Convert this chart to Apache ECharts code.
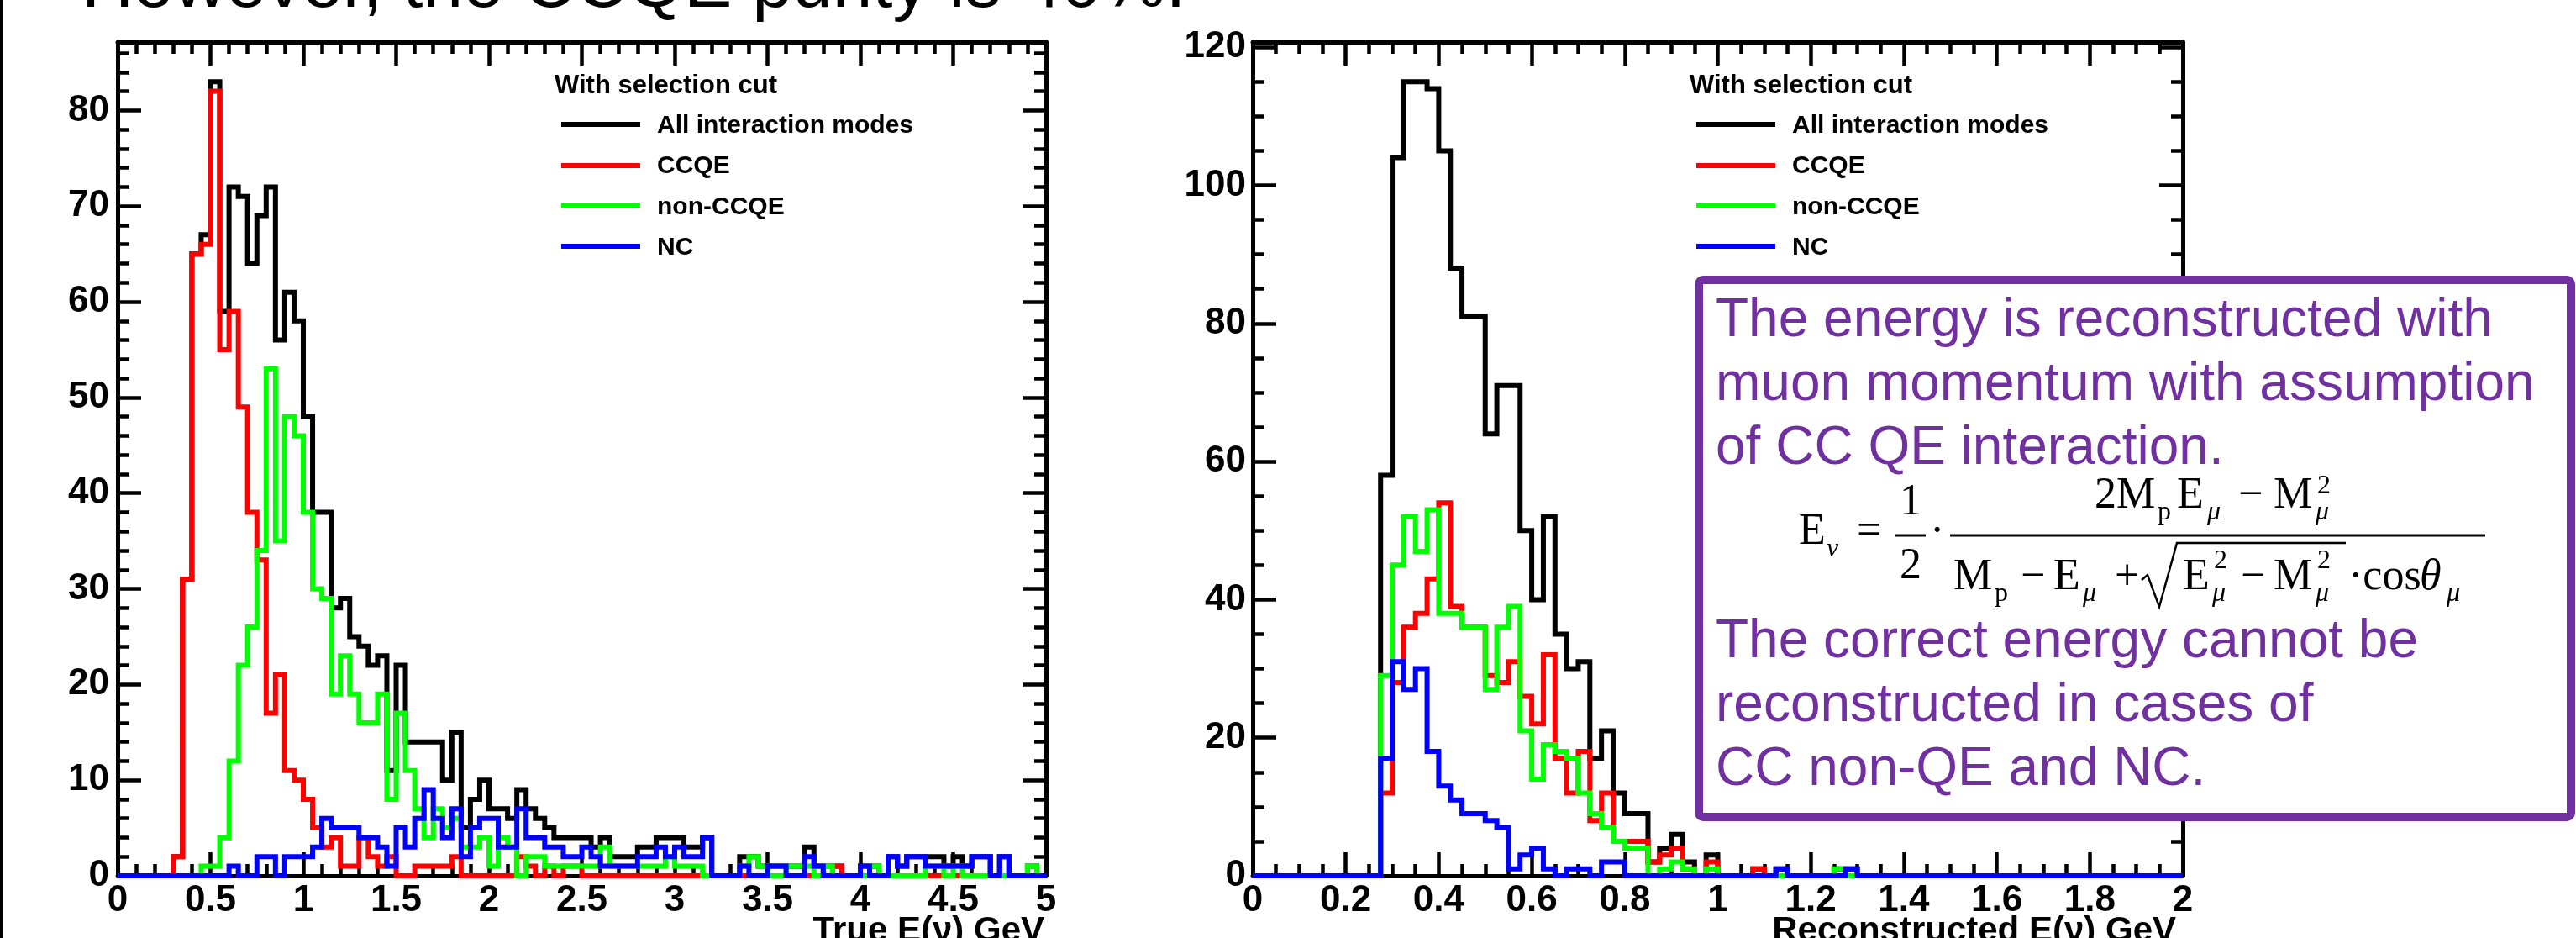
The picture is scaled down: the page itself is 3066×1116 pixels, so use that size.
<!DOCTYPE html>
<html><head><meta charset="utf-8">
<script src="https://cdn.jsdelivr.net/npm/echarts@6/dist/echarts.min.js"></script>
<style>html,body{margin:0;padding:0;background:#fff}#c{width:3066px;height:1116px}</style>
</head><body><div id="c"></div>
<script>
// ---------- DATA ----------
// Left panel: True E(nu), 100 bins of 0.05 GeV from 0 to 5
const trueBinWidth = 0.05;
const trueAll = [0,0,0,0,0,0,2,31,65,67, 83,59,72,71,64,69,72,56,61,58, 48,38,38,28,29,25,24,22,23,11, 22,14,14,14,14,10,15,5,8,10, 7,7,6,9,7,6,5,4,4,4, 4,3,4,2,2,2,3,3,4,4, 4,3,3,4,0,0,0,2,2,1, 1,1,1,1,3,1,1,1,0,0, 1,1,0,2,1,2,2,2,2,1, 2,1,2,2,0,2,0,0,1,0];
const trueCCQE = [0,0,0,0,0,0,2,31,65,66, 82,55,59,49,38,33,17,21,11,10, 8,5,3,4,1,1,4,2,1,2, 0,0,1,1,1,1,2,0,0,0, 0,0,0,2,1,0,1,0,1,1, 0,0,0,0,0,0,0,0,0,0, 0,0,0,0,0,0,0,0,0,0, 0,0,0,0,0,0,0,1,0,0, 0,0,0,0,0,0,0,0,0,0, 0,0,0,0,0,0,0,0,0,0];
const trueNonCCQE = [0,0,0,0,0,0,0,0,0,1, 1,4,12,22,26,34,53,35,48,46, 38,30,29,19,23,19,16,16,19,8, 17,11,7,4,7,5,6,3,3,4, 1,4,3,0,2,2,1,1,1,1, 1,1,3,1,1,1,1,1,1,2, 1,1,1,0,0,0,0,1,2,1, 0,0,1,1,1,0,1,0,0,0, 0,1,0,0,0,0,0,1,1,0, 1,0,0,0,0,0,0,0,1,0];
const trueNC = [0,0,0,0,0,0,0,0,0,0, 0,0,1,0,0,2,2,0,2,2, 2,3,6,5,5,5,4,4,3,1, 5,3,6,9,6,4,7,2,5,6, 6,3,3,7,4,4,3,3,2,2, 3,2,1,1,1,1,2,2,3,2, 3,2,2,4,0,0,0,1,0,0, 1,1,0,0,2,1,0,0,0,0, 1,0,0,2,1,2,2,1,1,1, 1,1,2,2,0,2,0,0,0,0];

// Right panel: Reconstructed E(nu), 80 bins of 0.025 GeV from 0 to 2
const recoBinWidth = 0.025;
const recoAll = [0,0,0,0,0,0,0,0,0,0, 0,58,104,115,115,114,105,88,81,81, 64,71,71,50,40,52,35,30,31,17, 21,12,9,9,2,4,6,2,0,3, 0,0,0,1,0,1,0,0,0,0, 1,1,0,0,0,0,0,0,0,0, 0,0,0,0,0,0,0,0,0,0, 0,0,0,0,0,0,0,0,0,0];
const recoCCQE = [0,0,0,0,0,0,0,0,0,0, 0,12,28,36,38,43,54,39,36,36, 29,28,31,26,22,32,17,12,18,8, 12,5,5,5,2,3,4,1,0,2, 0,0,0,1,0,0,0,0,0,0, 0,0,0,0,0,0,0,0,0,0, 0,0,0,0,0,0,0,0,0,0, 0,0,0,0,0,0,0,0,0,0];
const recoNonCCQE = [0,0,0,0,0,0,0,0,0,0, 0,29,45,52,47,53,38,38,36,36, 27,36,39,21,14,19,18,17,12,9, 7,5,4,4,0,1,2,1,0,1, 0,0,0,0,0,0,0,0,0,0, 1,0,0,0,0,0,0,0,0,0, 0,0,0,0,0,0,0,0,0,0, 0,0,0,0,0,0,0,0,0,0];
const recoNC = [0,0,0,0,0,0,0,0,0,0, 0,17,31,27,30,18,13,11,9,9, 8,7,1,3,4,1,0,1,1,0, 2,2,0,0,0,0,0,0,0,0, 0,0,0,0,0,1,0,0,0,0, 0,1,0,0,0,0,0,0,0,0, 0,0,0,0,0,0,0,0,0,0, 0,0,0,0,0,0,0,0,0,0];

const seriesNames = ['All interaction modes','CCQE','non-CCQE','NC'];
const seriesColors = ['#000000','#ff0000','#00ff00','#0000ff'];

const trueXTicks = ['0','0.5','1','1.5','2','2.5','3','3.5','4','4.5','5'];
const trueYTicks = ['0','10','20','30','40','50','60','70','80'];
const recoXTicks = ['0','0.2','0.4','0.6','0.8','1','1.2','1.4','1.6','1.8','2'];
const recoYTicks = ['0','20','40','60','80','100','120'];

// ---------- CHART ----------
const SANS = '"Liberation Sans", Arial, Helvetica, sans-serif';
const SERIF = '"Liberation Serif", "Times New Roman", serif';

function histPoints(vals, bw) {
  const pts = vals.map((v, i) => [+(i * bw).toFixed(5), v]);
  pts.push([+(vals.length * bw).toFixed(5), vals[vals.length - 1]]);
  return pts;
}

function labelFmt(ticks, interval) {
  return function (v) {
    const i = Math.round(v / interval);
    if (Math.abs(v - i * interval) > 1e-6) return '';
    return ticks[i] !== undefined ? ticks[i] : '';
  };
}

const tickStyle = { color: '#000', width: 4.5 };
const frameLine = { show: true, onZero: false, lineStyle: { color: '#000', width: 5 } };
const LABEL_SIZE = 44;

function xAxes(gi, max, interval, minorSplit, ticks) {
  const base = {
    type: 'value', gridIndex: gi, min: 0, max: max, interval: interval,
    splitLine: { show: false }, minorSplitLine: { show: false },
    axisLine: frameLine,
    axisTick: { show: true, inside: true, length: 28, lineStyle: tickStyle },
    minorTick: { show: true, splitNumber: minorSplit, length: 14, lineStyle: tickStyle }
  };
  return [
    Object.assign({}, base, { position: 'bottom',
      axisLabel: { show: true, margin: 8, color: '#000', fontFamily: SANS, fontWeight: 'bold', fontSize: LABEL_SIZE,
        formatter: labelFmt(ticks, interval) } }),
    Object.assign({}, base, { position: 'top', axisLabel: { show: false } })
  ];
}

function yAxes(gi, max, interval, minorInterval, ticks, margin) {
  const base = { type: 'value', gridIndex: gi, min: 0, max: max,
    splitLine: { show: false }, minorSplitLine: { show: false } };
  return [
    Object.assign({}, base, { position: 'left', interval: interval, axisLine: frameLine,
      axisTick: { show: true, inside: true, length: 28, lineStyle: tickStyle },
      axisLabel: { show: true, margin: margin, color: '#000', fontFamily: SANS, fontWeight: 'bold', fontSize: LABEL_SIZE,
        showMaxLabel: false, formatter: labelFmt(ticks, interval) } }),
    Object.assign({}, base, { position: 'left', interval: minorInterval, axisLine: { show: false, onZero: false },
      axisTick: { show: true, inside: true, length: 14, lineStyle: tickStyle }, axisLabel: { show: false } }),
    Object.assign({}, base, { position: 'right', interval: interval, axisLine: frameLine,
      axisTick: { show: true, inside: true, length: 28, lineStyle: tickStyle }, axisLabel: { show: false } }),
    Object.assign({}, base, { position: 'right', interval: minorInterval, axisLine: { show: false, onZero: false },
      axisTick: { show: true, inside: true, length: 14, lineStyle: tickStyle }, axisLabel: { show: false } })
  ];
}

function histSeries(gi, arrays, bw) {
  return arrays.map((vals, k) => ({
    type: 'line', name: seriesNames[k], xAxisIndex: gi * 2, yAxisIndex: gi * 4,
    step: 'end', symbol: 'none', silent: true, animation: false, z: 2 + k,
    lineStyle: { color: seriesColors[k], width: 6, join: 'miter', cap: 'butt' },
    data: histPoints(vals, bw)
  }));
}

function txt(s, x, B, F, o) {
  o = o || {};
  const fam = o.serif ? SERIF : SANS;
  const k = o.serif ? 0.3375 : 0.3465;
  return { type: 'text', x: x, y: B - k * F, z: o.z || 60, silent: true,
    style: { text: s, font: (o.italic ? 'italic ' : '') + (o.bold ? 'bold ' : '') + F + 'px ' + fam,
      fill: o.color || '#000', align: o.align || 'left', verticalAlign: 'middle' } };
}
function seg(x1, y1, x2, y2, w, c, z) {
  return { type: 'line', silent: true, z: z || 60, shape: { x1: x1, y1: y1, x2: x2, y2: y2 },
    style: { stroke: c || '#000', lineWidth: w } };
}

function legend(ox) {
  const els = [txt('With selection cut', 660 + ox, 113, 31, { bold: true })];
  const lineY = [148, 197, 245, 293];
  const textB = [160, 208, 257, 305];
  for (let k = 0; k < 4; k++) {
    els.push(seg(668 + ox, lineY[k], 762 + ox, lineY[k], 6, seriesColors[k]));
    els.push(txt(seriesNames[k], 782 + ox, textB[k], 30, { bold: true }));
  }
  return els;
}

const PURPLE = '#7030A0';
const gfx = [];
gfx.push(seg(1.5, 0, 1.5, 1116, 3, '#000'));
gfx.push(txt('However, the CCQE purity is 40%.', 97, 14, 86));
gfx.push(...legend(0));
gfx.push(...legend(1351));
gfx.push(txt('True E(ν) GeV', 1243, 1123, 42, { bold: true, align: 'right' }));
gfx.push(txt('Reconstructed E(ν) GeV', 2590, 1123, 42, { bold: true, align: 'right' }));

// explanatory box
gfx.push({ type: 'rect', z: 50, silent: true, shape: { x: 2022, y: 333, width: 1038, height: 639, r: 5 },
  style: { fill: '#ffffff', stroke: PURPLE, lineWidth: 10 } });
const boxLines = [
  ['The energy is reconstructed with', 405],
  ['muon momentum with assumption', 481],
  ['of CC QE interaction.', 557],
  ['The correct energy cannot be', 787],
  ['reconstructed in cases of', 863],
  ['CC non-QE and NC.', 939]
];
boxLines.forEach(l => gfx.push(txt(l[0], 2042, l[1], 64, { color: PURPLE })));

// formula
const S = { serif: true };
const SI = { serif: true, italic: true };
const F1 = 52, F2 = 32;
gfx.push(txt('E', 2141, 651, F1, S));
gfx.push(txt('ν', 2174, 664, F2, SI));
gfx.push(txt('=', 2210, 651, F1, S));
gfx.push(txt('1', 2274, 616, F1, Object.assign({ align: 'center' }, S)));
gfx.push(seg(2256, 637, 2292, 637, 3));
gfx.push(txt('2', 2274, 692, F1, Object.assign({ align: 'center' }, S)));
gfx.push(txt('·', 2297, 651, F1, S));
gfx.push(seg(2321, 637, 2958, 637, 3));
// numerator
gfx.push(txt('2M', 2493, 608, F1, S));
gfx.push(txt('p', 2568, 620, F2, S));
gfx.push(txt('E', 2591, 608, F1, S));
gfx.push(txt('μ', 2627, 620, F2, SI));
gfx.push(txt('−', 2664, 608, F1, S));
gfx.push(txt('M', 2706, 608, F1, S));
gfx.push(txt('μ', 2756, 620, F2, SI));
gfx.push(txt('2', 2758, 589, F2, S));
// denominator
gfx.push(txt('M', 2325, 705, F1, S));
gfx.push(txt('p', 2374, 717, F2, S));
gfx.push(txt('−', 2405, 705, F1, S));
gfx.push(txt('E', 2444, 705, F1, S));
gfx.push(txt('μ', 2479, 717, F2, SI));
gfx.push(txt('+', 2517, 705, F1, S));
gfx.push({ type: 'polyline', z: 60, silent: true,
  shape: { points: [[2549, 690], [2556, 684], [2570, 722], [2591, 646], [2792, 646]] },
  style: { stroke: '#000', lineWidth: 2.5, fill: null } });
gfx.push(txt('E', 2598, 705, F1, S));
gfx.push(txt('μ', 2633, 717, F2, SI));
gfx.push(txt('2', 2635, 678, F2, S));
gfx.push(txt('−', 2667, 705, F1, S));
gfx.push(txt('M', 2706, 705, F1, S));
gfx.push(txt('μ', 2756, 717, F2, SI));
gfx.push(txt('2', 2758, 678, F2, S));
gfx.push(txt('·cos', 2795, 705, F1, S));
gfx.push(txt('θ', 2880, 705, F1, SI));
gfx.push(txt('μ', 2912, 717, F2, SI));

const option = {
  animation: false,
  backgroundColor: '#ffffff',
  grid: [
    { left: 140, top: 50, width: 1105, height: 992, outerBoundsMode: 'none', containLabel: false },
    { left: 1491, top: 50, width: 1107, height: 992, outerBoundsMode: 'none', containLabel: false }
  ],
  xAxis: [].concat(xAxes(0, 5, 0.5, 5, trueXTicks), xAxes(1, 2, 0.2, 4, recoXTicks)),
  yAxis: [].concat(yAxes(0, 87.15, 10, 2, trueYTicks, 10), yAxes(1, 120.75, 20, 5, recoYTicks, 8)),
  series: [].concat(
    histSeries(0, [trueAll, trueCCQE, trueNonCCQE, trueNC], trueBinWidth),
    histSeries(1, [recoAll, recoCCQE, recoNonCCQE, recoNC], recoBinWidth)
  ),
  graphic: { elements: gfx }
};

const chart = echarts.init(document.getElementById('c'), null, { renderer: 'canvas', width: 3066, height: 1116 });
chart.setOption(option);
</script>
</body></html>
